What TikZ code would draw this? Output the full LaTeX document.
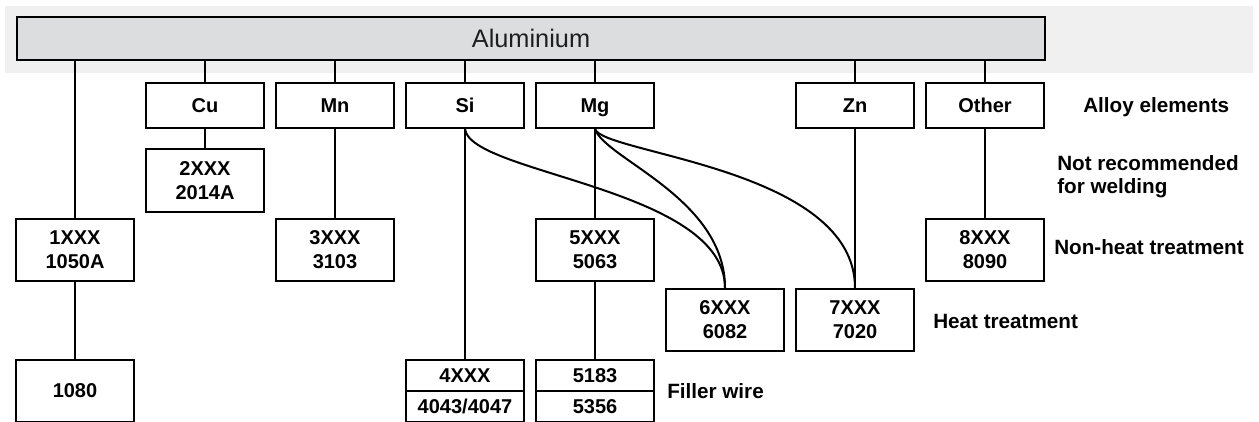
\documentclass[tikz,border=0pt]{standalone}
\usepackage{fontspec}
\setmainfont{Liberation Sans}
\begin{document}
\begin{tikzpicture}[x=0.75pt,y=-0.75pt,
 box/.style={draw=black,line width=1.5pt,fill=white,inner sep=0pt,align=center,font=\fontsize{15}{18}\selectfont\bfseries,minimum width=88.5pt},
 elem/.style={box,minimum height=33.75pt,text height=12.5pt,text depth=1.5pt},
 alloy/.style={box,minimum height=46.5pt},
 half/.style={box,minimum height=23.25pt},
 lbl/.style={anchor=west,align=left,font=\fontsize{15.5}{17}\selectfont\bfseries,inner sep=0pt},
 conn/.style={line width=1.5pt}]
\useasboundingbox (0,0) rectangle (1259,421);
\clip (0,0) rectangle (1259,421);
\fill[black!6] (5,6) rectangle (1253,73);
\node[draw,line width=1.5pt,fill={rgb,255:red,220;green,221;blue,223},minimum width=771pt,minimum height=32.25pt,inner sep=0pt,text={rgb,255:red,30;green,30;blue,30},font=\fontsize{19}{20}\selectfont] (al) at (531,38.5) {Aluminium};
% alloy elements
\node[elem] (cu) at (205,105.5) {Cu};
\node[elem] (mn) at (335,105.5) {Mn};
\node[elem] (si) at (465,105.5) {Si};
\node[elem] (mg) at (595,105.5) {Mg};
\node[elem] (zn) at (855,105.5) {Zn};
\node[elem] (oth) at (985,105.5) {Other};
% alloys
\node[box,minimum height=47.25pt] (x2) at (205,180.5) {2XXX\\2014A};
\node[alloy] (x1) at (75,250) {1XXX\\1050A};
\node[alloy] (x3) at (335,250) {3XXX\\3103};
\node[alloy] (x5) at (595,250) {5XXX\\5063};
\node[alloy] (x8) at (985,250) {8XXX\\8090};
\node[alloy] (x6) at (725,320) {6XXX\\6082};
\node[alloy] (x7) at (855,320) {7XXX\\7020};
% filler / bottom
\node[alloy] (x1080) at (75,391) {1080};
\node[half] (x4) at (465,375.5) {4XXX};
\node[half] (f4) at (465,406.5) {4043/4047};
\node[half] (f5a) at (595,375.5) {5183};
\node[half] (f5b) at (595,406.5) {5356};
% labels
\node[lbl] (lae) at (1083,107) {Alloy elements};
\node[lbl] (lnr) at (1057,177) {Not recommended\\for welding};
\node[lbl] (lnh) at (1054,247) {Non-heat treatment};
\node[lbl] (lht) at (933,321) {Heat treatment};
\node[lbl] (lfw) at (667,391) {Filler wire};
% connectors from Aluminium
\draw[conn] (x1.north) -- (x1.north |- al.south);
\foreach \n in {cu,mn,si,mg,zn,oth}{\draw[conn] (\n.north) -- (\n.north |- al.south);}
% vertical connectors
\draw[conn] (cu.south) -- (x2.north);
\draw[conn] (mn.south) -- (x3.north);
\draw[conn] (si.south) -- (x4.north);
\draw[conn] (mg.south) -- (x5.north);
\draw[conn] (x5.south) -- (f5a.north);
\draw[conn] (x1.south) -- (x1080.north);
\draw[conn] (zn.south) -- (x7.north);
\draw[conn] (oth.south) -- (x8.north);
% curves
\draw[conn] (si.south) .. controls +(5,45) and +(0,-100) .. (x6.north);
\draw[conn] (mg.south) .. controls +(10,30) and +(0,-90) .. (x6.north);
\draw[conn] (mg.south) .. controls +(8,25) and +(0,-120) .. (x7.north);
\end{tikzpicture}
\end{document}
